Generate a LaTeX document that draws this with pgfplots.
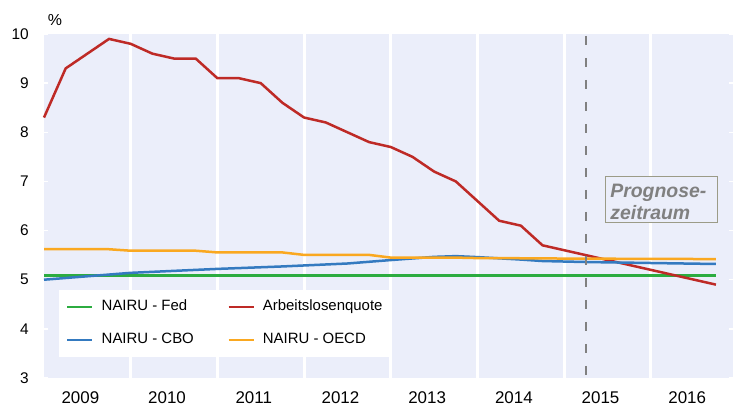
\documentclass[border=0pt]{standalone}
\usepackage{fontspec}
\setmainfont{Liberation Sans}
\usepackage{pgfplots}
\pgfplotsset{compat=1.18}
\definecolor{bg}{RGB}{235,238,250}
\definecolor{cred}{RGB}{190,42,38}
\definecolor{cgreen}{RGB}{44,172,64}
\definecolor{cblue}{RGB}{52,122,192}
\definecolor{corange}{RGB}{250,168,32}
\definecolor{boxc}{RGB}{155,155,135}
\definecolor{ptext}{RGB}{128,128,128}
\begin{document}
\begin{tikzpicture}
\useasboundingbox (-44bp,-28bp) rectangle (690bp,378bp);
\begin{axis}[
  at={(0,0)}, anchor=south west,
  scale only axis, width=689bp, height=344bp,
  xmin=2009, xmax=2016.947, ymin=3, ymax=10,
  clip=false,
  axis background/.style={fill=bg},
  axis line style={draw=none},
  /pgf/number format/assume math mode=true,
  ytick={3,4,5,6,7,8,9,10},
  yticklabel style={anchor=east, inner sep=0pt, xshift=-15bp, font=\fontsize{15.5}{17}\selectfont},
  ytick style={white, line width=1.5bp},
  major tick length=4bp, tick align=inside,
  xtick={2009.5,2010.5,2011.5,2012.5,2013.5,2014.5,2015.5,2016.5},
  xticklabels={2009,2010,2011,2012,2013,2014,2015,2016},
  xtick style={draw=none},
  xticklabel style={anchor=north, inner sep=0pt, yshift=-13bp, xshift=-7bp, font=\fontsize{17}{19}\selectfont},
  minor xtick={2010,2011,2012,2013,2014,2015,2016},
  minor tick length=0pt,
  xminorgrids=true,
  minor x grid style={white, line width=3bp},
  legend columns=2,
  legend cell align=left,
  legend image code/.code={\draw[#1] (0bp,0bp) -- (25bp,0bp);},
  legend style={
    at={(0.0218,0.2558)}, anchor=north west,
    fill=white, draw=none,
    inner xsep=7bp, inner ysep=10bp,
    font=\fontsize{15}{17}\selectfont,
    nodes={inner sep=0pt, text height=10.5bp, text depth=3bp},
    row sep=19.5bp,
    /tikz/every odd column/.append style={column sep=8bp},
    /tikz/every even column/.append style={column sep=33.5bp},
  },
]
\addplot[cgreen, line width=2.5bp] coordinates {(2009,5.09) (2016.75,5.09)};
\addlegendentry{NAIRU - Fed}
\addplot[cred, line width=2.5bp] coordinates {
(2009.00,8.3) (2009.25,9.3) (2009.50,9.6) (2009.75,9.9)
(2010.00,9.8) (2010.25,9.6) (2010.50,9.5) (2010.75,9.5)
(2011.00,9.1) (2011.25,9.1) (2011.50,9.0) (2011.75,8.6)
(2012.00,8.3) (2012.25,8.2) (2012.50,8.0) (2012.75,7.8)
(2013.00,7.7) (2013.25,7.5) (2013.50,7.2) (2013.75,7.0)
(2014.00,6.6) (2014.25,6.2) (2014.50,6.1) (2014.75,5.7)
(2015.00,5.6) (2015.25,5.5) (2015.50,5.4) (2015.75,5.3)
(2016.00,5.2) (2016.25,5.1) (2016.50,5.0) (2016.75,4.9)};
\addlegendentry{Arbeitslosenquote}
\addplot[cblue, line width=2.5bp] coordinates {
(2009.00,5.00) (2010.00,5.14) (2011.00,5.22) (2011.75,5.27) (2012.00,5.29)
(2012.50,5.33) (2013.00,5.40) (2013.50,5.465) (2013.75,5.48) (2014.00,5.46)
(2014.50,5.41) (2014.75,5.38) (2015.25,5.36) (2016.75,5.32)};
\addlegendentry{NAIRU - CBO}
\addplot[corange, line width=2.5bp] coordinates {
(2009.00,5.62) (2009.75,5.62) (2010.00,5.59) (2010.75,5.59)
(2011.00,5.555) (2011.75,5.555) (2012.00,5.505) (2012.75,5.505)
(2013.00,5.45) (2013.75,5.45) (2014.00,5.44) (2014.75,5.435)
(2015.00,5.43) (2016.75,5.42)};
\addlegendentry{NAIRU - OECD}
\draw[ptext, line width=2.3bp, dash pattern=on 9bp off 13bp] (axis cs:2015.25,9.96) -- (axis cs:2015.25,3);
\draw[boxc, line width=1bp, fill=bg] (axis cs:2015.48,6.155) rectangle (axis cs:2016.77,7.11);
\node[anchor=base west, inner sep=0pt, text=ptext, font=\bfseries\itshape\fontsize{19.5}{22}\selectfont] at (axis cs:2015.53,6.663) {Prognose-};
\node[anchor=base west, inner sep=0pt, text=ptext, font=\bfseries\itshape\fontsize{19.5}{22}\selectfont] at (axis cs:2015.53,6.235) {zeitraum};
\node[font=\fontsize{16}{18}\selectfont, inner sep=0pt] at (axis cs:2009.127,10.285) {\%};
\end{axis}
\end{tikzpicture}
\end{document}
